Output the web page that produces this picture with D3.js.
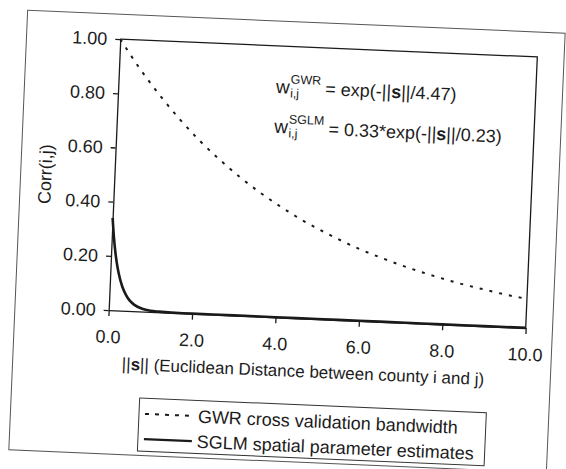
<!DOCTYPE html>
<html>
<head>
<meta charset="utf-8">
<script src="https://cdn.jsdelivr.net/npm/d3@7"></script>
<style>
  body { margin: 0; background: #fff; }
  svg text { font-family: "Liberation Sans", Arial, sans-serif; fill: #1c1c1c; white-space: pre; }
</style>
</head>
<body>
<svg id="chart" width="566" height="469"></svg>
<script>
// values
var distGWR = [0, 0.5, 1, 1.5, 2, 2.5, 3, 3.5, 4, 4.5, 5, 5.5, 6, 6.5, 7, 7.5, 8, 8.5, 9, 9.5, 10];
var corrGWR = [1.00, 0.894, 0.80, 0.715, 0.639, 0.572, 0.511, 0.457, 0.409, 0.365, 0.327, 0.292, 0.261, 0.234, 0.209, 0.187, 0.167, 0.149, 0.134, 0.119, 0.107];

var distSGLM = [0, 0.05, 0.1, 0.15, 0.2, 0.3, 0.4, 0.5, 0.6, 0.8, 1.0, 1.2, 1.5, 2, 3, 4, 5, 6, 7, 8, 9, 10];
var corrSGLM = [0.34, 0.27, 0.215, 0.172, 0.138, 0.089, 0.058, 0.037, 0.024, 0.010, 0.004, 0.002, 0.0005, 0.0001, 0, 0, 0, 0, 0, 0, 0, 0];

var xTicks = [0, 2, 4, 6, 8, 10];
var yTicks = [0, 0.2, 0.4, 0.6, 0.8, 1.0];

var seriesNames = ["GWR cross validation bandwidth", "SGLM spatial parameter estimates"];

var ink = "#1a1a1a";

var svg = d3.select("#chart");

// the scan is tilted a little, so everything sits in one rotated group
var page = svg.append("g")
    .attr("transform", "rotate(2.45,323,183.5)");

page.append("rect")
    .attr("x", 20.5).attr("y", 23)
    .attr("width", 538).attr("height", 440)
    .attr("fill", "none")
    .attr("stroke", "#555")
    .attr("stroke-width", 1);

var margin = {left: 114.3, top: 47.9},
    width = 417.4,
    height = 271.2;

var x = d3.scaleLinear().domain([0, 10]).range([0, width]),
    y = d3.scaleLinear().domain([0, 1]).range([height, 0]);

var g = page.append("g")
    .attr("transform", "translate(" + margin.left + "," + margin.top + ")");

// plot area border (top and right)
g.append("path")
    .attr("d", "M0,0H" + width + "V" + height)
    .attr("fill", "none")
    .attr("stroke", ink)
    .attr("stroke-width", 1.3);

var xAxis = g.append("g")
    .attr("transform", "translate(0," + height + ")")
    .call(d3.axisBottom(x).tickValues(xTicks).tickFormat(d3.format(".1f"))
        .tickSize(6).tickSizeOuter(0).tickPadding(14));

var yAxis = g.append("g")
    .call(d3.axisLeft(y).tickValues(yTicks).tickFormat(d3.format(".2f"))
        .tickSize(5).tickSizeOuter(0).tickPadding(8));

[xAxis, yAxis].forEach(function(a) {
  a.selectAll("path, line").attr("stroke", ink).attr("stroke-width", 1.3);
  a.selectAll("text").attr("font-size", 18).attr("fill", "#1c1c1c")
      .style("font-family", "Liberation Sans, Arial, sans-serif");
});

var curve = d3.line()
    .x(function(d) { return x(d[0]); })
    .y(function(d) { return y(d[1]); })
    .curve(d3.curveMonotoneX);

g.append("path")
    .datum(d3.zip(distGWR, corrGWR))
    .attr("d", curve)
    .attr("fill", "none")
    .attr("stroke", ink)
    .attr("stroke-width", 2)
    .attr("stroke-dasharray", "3,7");

g.append("path")
    .datum(d3.zip(distSGLM, corrSGLM))
    .attr("d", curve)
    .attr("fill", "none")
    .attr("stroke", ink)
    .attr("stroke-width", 2.6);

// axis titles
page.append("text")
    .attr("transform", "translate(45,186) rotate(-90)")
    .attr("text-anchor", "middle")
    .attr("dy", "0.35em")
    .attr("font-size", 18)
    .text("Corr(i,j)");

var xt = page.append("text")
    .attr("x", 311).attr("y", 378)
    .attr("text-anchor", "middle")
    .attr("font-size", 17);
xt.append("tspan").text("||");
xt.append("tspan").attr("font-weight", "bold").text("s");
xt.append("tspan").text("|| (Euclidean Distance between county i and j)");

// formula annotations
function formula(px, py, sup, rest) {
  var w = page.append("text").attr("x", px).attr("y", py).attr("font-size", 19).text("w");
  var ww = w.node().getComputedTextLength();
  var sub = page.append("text").attr("x", px + ww + 0.5).attr("y", py + 4).attr("font-size", 12.5).text("i,j");
  var sp = page.append("text").attr("x", px + ww + 0.5).attr("y", py - 10).attr("font-size", 12.5).text(sup);
  var off = px + ww + Math.max(sub.node().getComputedTextLength(), sp.node().getComputedTextLength()) + 5;
  var t = page.append("text").attr("x", off).attr("y", py).attr("font-size", 18);
  t.append("tspan").text(rest[0]);
  t.append("tspan").attr("font-weight", "bold").text("s");
  t.append("tspan").text(rest[1]);
}
formula(272, 95, "GWR", ["= exp(-||", "||/4.47)"]);
formula(272, 135, "SGLM", ["= 0.33*exp(-||", "||/0.23)"]);

// legend
var lg = page.append("g").attr("transform", "translate(149,405.6)");
lg.append("rect")
    .attr("width", 347).attr("height", 53)
    .attr("fill", "#fff")
    .attr("stroke", "#333")
    .attr("stroke-width", 1);

var rows = lg.selectAll(".row")
    .data(seriesNames)
    .enter().append("g")
      .attr("class", "row")
      .attr("transform", function(d, i) { return "translate(0," + (15.7 + i * 25.2) + ")"; });

rows.append("line")
    .attr("x1", 6).attr("x2", 54)
    .attr("stroke", ink)
    .attr("stroke-width", function(d, i) { return i ? 2.4 : 2; })
    .attr("stroke-dasharray", function(d, i) { return i ? null : "4,6"; });

rows.append("text")
    .attr("x", 59).attr("dy", "0.36em")
    .attr("font-size", 18)
    .text(function(d) { return d; });
</script>
</body>
</html>
